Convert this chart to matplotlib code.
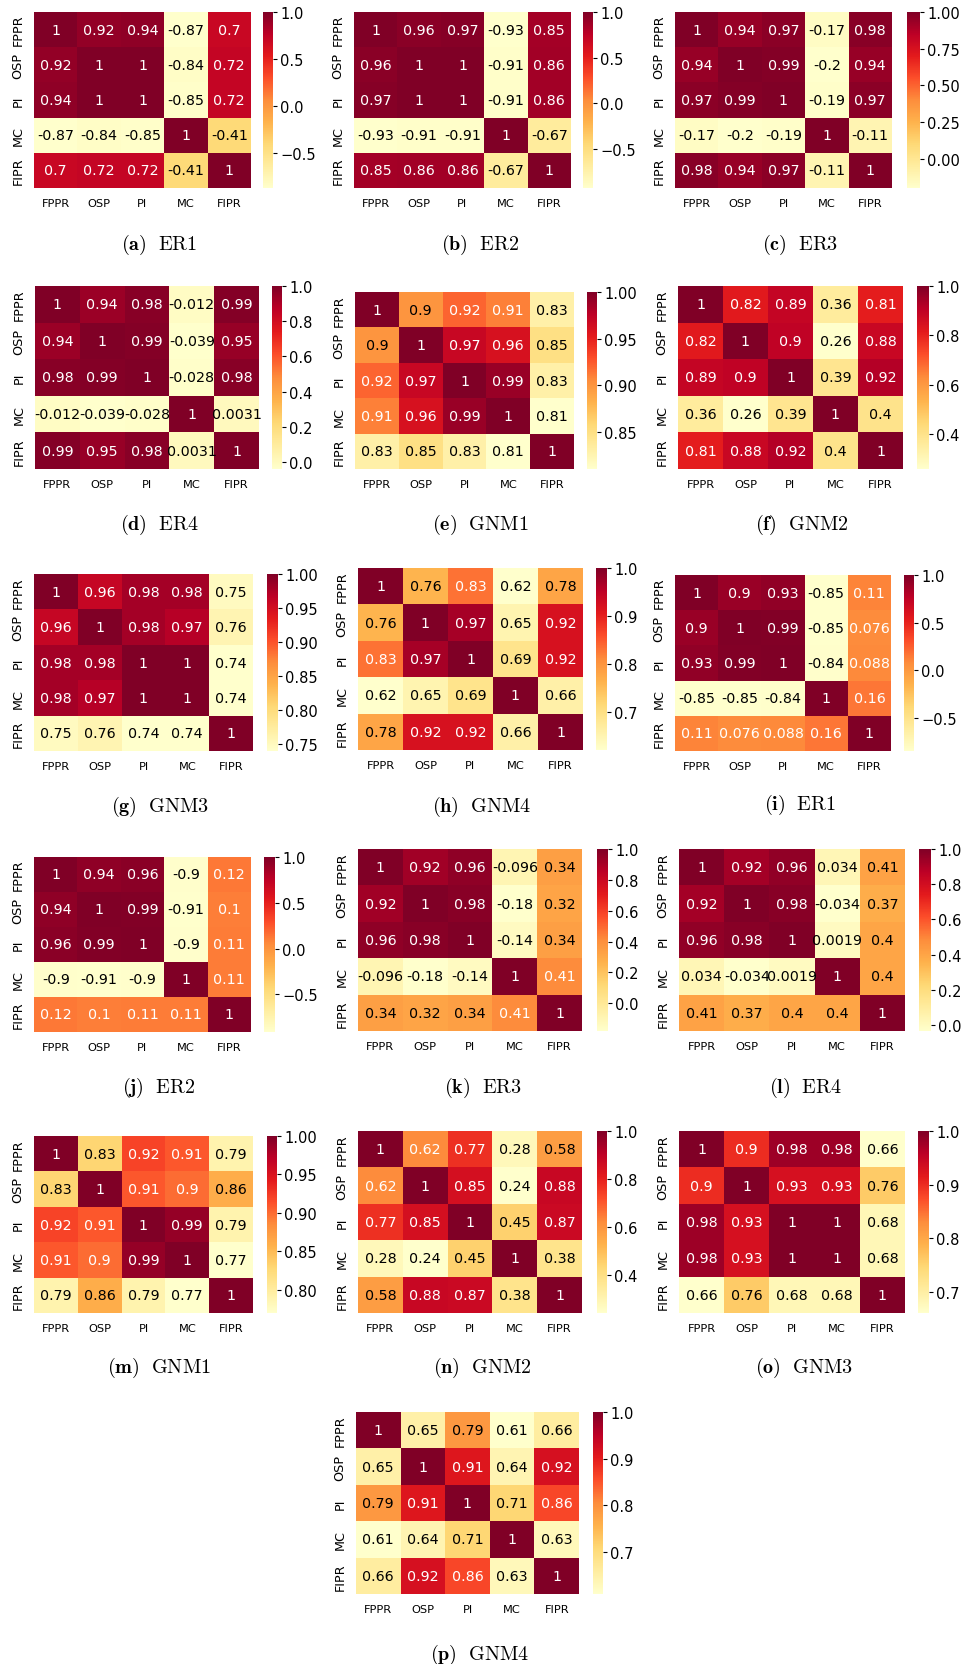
import numpy as np
import matplotlib
matplotlib.use("Agg")
import matplotlib.pyplot as plt
from matplotlib.ticker import MultipleLocator
import seaborn as sns

plt.rcParams["mathtext.fontset"] = "cm"

labels = ["FPPR", "OSP", "PI", "MC", "FIPR"]

er1_a = [[1, .92, .94, -.87, .7],
         [.92, 1, 1, -.84, .72],
         [.94, 1, 1, -.85, .72],
         [-.87, -.84, -.85, 1, -.41],
         [.7, .72, .72, -.41, 1]]
er2_b = [[1, .96, .97, -.93, .85],
         [.96, 1, 1, -.91, .86],
         [.97, 1, 1, -.91, .86],
         [-.93, -.91, -.91, 1, -.67],
         [.85, .86, .86, -.67, 1]]
er3_c = [[1, .94, .97, -.17, .98],
         [.94, 1, .99, -.2, .94],
         [.97, .99, 1, -.19, .97],
         [-.17, -.2, -.19, 1, -.11],
         [.98, .94, .97, -.11, 1]]
er4_d = [[1, .94, .98, -.012, .99],
         [.94, 1, .99, -.039, .95],
         [.98, .99, 1, -.028, .98],
         [-.012, -.039, -.028, 1, .0031],
         [.99, .95, .98, .0031, 1]]
gnm1_e = [[1, .9, .92, .91, .83],
          [.9, 1, .97, .96, .85],
          [.92, .97, 1, .99, .83],
          [.91, .96, .99, 1, .81],
          [.83, .85, .83, .81, 1]]
gnm2_f = [[1, .82, .89, .36, .81],
          [.82, 1, .9, .26, .88],
          [.89, .9, 1, .39, .92],
          [.36, .26, .39, 1, .4],
          [.81, .88, .92, .4, 1]]
gnm3_g = [[1, .96, .98, .98, .75],
          [.96, 1, .98, .97, .76],
          [.98, .98, 1, 1, .74],
          [.98, .97, 1, 1, .74],
          [.75, .76, .74, .74, 1]]
gnm4_h = [[1, .76, .83, .62, .78],
          [.76, 1, .97, .65, .92],
          [.83, .97, 1, .69, .92],
          [.62, .65, .69, 1, .66],
          [.78, .92, .92, .66, 1]]
er1_i = [[1, .9, .93, -.85, .11],
         [.9, 1, .99, -.85, .076],
         [.93, .99, 1, -.84, .088],
         [-.85, -.85, -.84, 1, .16],
         [.11, .076, .088, .16, 1]]
er2_j = [[1, .94, .96, -.9, .12],
         [.94, 1, .99, -.91, .1],
         [.96, .99, 1, -.9, .11],
         [-.9, -.91, -.9, 1, .11],
         [.12, .1, .11, .11, 1]]
er3_k = [[1, .92, .96, -.096, .34],
         [.92, 1, .98, -.18, .32],
         [.96, .98, 1, -.14, .34],
         [-.096, -.18, -.14, 1, .41],
         [.34, .32, .34, .41, 1]]
er4_l = [[1, .92, .96, .034, .41],
         [.92, 1, .98, -.034, .37],
         [.96, .98, 1, .0019, .4],
         [.034, -.034, .0019, 1, .4],
         [.41, .37, .4, .4, 1]]
gnm1_m = [[1, .83, .92, .91, .79],
          [.83, 1, .91, .9, .86],
          [.92, .91, 1, .99, .79],
          [.91, .9, .99, 1, .77],
          [.79, .86, .79, .77, 1]]
gnm2_n = [[1, .62, .77, .28, .58],
          [.62, 1, .85, .24, .88],
          [.77, .85, 1, .45, .87],
          [.28, .24, .45, 1, .38],
          [.58, .88, .87, .38, 1]]
gnm3_o = [[1, .9, .98, .98, .66],
          [.9, 1, .93, .93, .76],
          [.98, .93, 1, 1, .68],
          [.98, .93, 1, 1, .68],
          [.66, .76, .68, .68, 1]]
gnm4_p = [[1, .65, .79, .61, .66],
          [.65, 1, .91, .64, .92],
          [.79, .91, 1, .71, .86],
          [.61, .64, .71, 1, .63],
          [.66, .92, .86, .63, 1]]

matrices = [er1_a, er2_b, er3_c, er4_d, gnm1_e, gnm2_f, gnm3_g, gnm4_h,
            er1_i, er2_j, er3_k, er4_l, gnm1_m, gnm2_n, gnm3_o, gnm4_p]
letters = list("abcdefghijklmnop")
names = ["ER1", "ER2", "ER3", "ER4", "GNM1", "GNM2", "GNM3", "GNM4",
         "ER1", "ER2", "ER3", "ER4", "GNM1", "GNM2", "GNM3", "GNM4"]

# Colorbar tick spacing for each panel
cbar_steps = [0.5, 0.5, 0.25, 0.2, 0.05, 0.2, 0.05, 0.1,
              0.5, 0.5, 0.2, 0.2, 0.05, 0.2, 0.1, 0.1]

# Layout in pixels: heatmap box (left, top, width, height), colorbar (left, width),
# caption centre (x, y)
W, H = 968, 1665
heat_boxes = [(34, 13, 217, 176), (354, 13, 217, 176), (675, 13, 217, 176),
              (35, 287, 224, 183), (355, 293, 219, 177), (678, 287, 225, 183),
              (34, 575, 219, 177), (358, 569, 225, 182), (675, 576, 216, 176),
              (34, 858, 217, 175), (358, 850, 224, 182), (679, 850, 226, 182),
              (34, 1137, 219, 177), (358, 1132, 224, 182), (679, 1132, 226, 182),
              (356, 1413, 223, 182)]
cbar_boxes = [(263, 10), (583, 10), (907, 13),
              (272, 10), (587, 10), (917, 12),
              (267, 11), (596, 11), (904, 10),
              (264, 11), (597, 11), (919, 12),
              (267, 10), (597, 10), (918, 11),
              (593, 10)]
captions_xy = [(159, 245), (480, 245), (800, 245),
               (159, 525), (480, 525), (802, 525),
               (160, 807), (482, 807), (800, 805),
               (159, 1088), (483, 1088), (805, 1088),
               (159, 1368), (482, 1368), (804, 1368),
               (480, 1655)]


def px_rect(left, top, width, height):
    return [left / W, 1 - (top + height) / H, width / W, height / H]


fig = plt.figure(figsize=(W / 100, H / 100), dpi=100)

for mat, (hl, ht, hw, hh), (cl, cw), (tx, ty), let, name, step in zip(
        matrices, heat_boxes, cbar_boxes, captions_xy, letters, names, cbar_steps):
    ax = fig.add_axes(px_rect(hl, ht, hw, hh))
    cax = fig.add_axes(px_rect(cl, ht, cw, hh))
    sns.heatmap(np.array(mat), ax=ax, cbar_ax=cax, cmap="YlOrRd",
                annot=True, fmt=".2g", annot_kws={"size": 10.3},
                xticklabels=labels, yticklabels=labels)
    for t in ax.texts:
        if t.get_color() != "w":
            t.set_color("black")
    ax.tick_params(axis="both", length=0, pad=7)
    ax.tick_params(axis="x", labelsize=8.2)
    ax.tick_params(axis="y", labelsize=9.2)
    for t in ax.get_yticklabels():
        t.set_rotation(90)
        t.set_va("center")
    for t in ax.get_xticklabels():
        t.set_rotation(0)
    cax.yaxis.set_major_locator(MultipleLocator(step))
    cax.tick_params(labelsize=10.5, length=3, width=0.8, pad=2)
    fig.text(tx / W, 1 - ty / H,
             r"$\mathbf{(%s)}\ \ \mathrm{%s}$" % (let, name),
             ha="center", va="center", fontsize=14.5)

fig.savefig("out.png", dpi=100)
